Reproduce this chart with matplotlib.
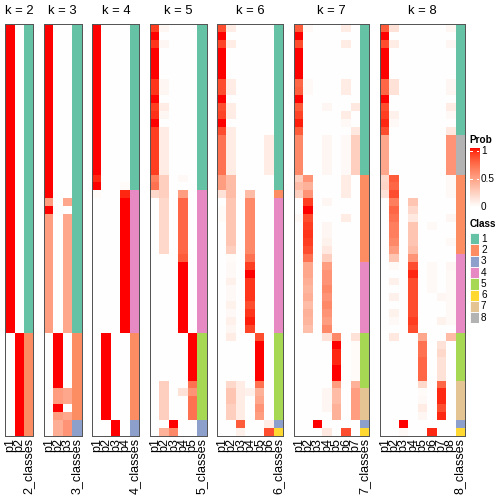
import numpy as np
import matplotlib
matplotlib.use("Agg")
import matplotlib.pyplot as plt
from matplotlib.colors import ListedColormap, to_rgb
from matplotlib.patches import Rectangle

plt.rcParams['font.family'] = ['Liberation Sans', 'DejaVu Sans']

# Every column is stored as (value, number of consecutive rows), top to bottom.
N_ROWS = 52

K2_CLASS = [(1, 39), (2, 13)]
K2_P1 = [(1, 39), (0, 13)]
K2_P2 = [(0, 39), (1, 13)]

K3_CLASS = [(1, 39), (2, 11), (3, 2)]
K3_P1 = [(1, 22), (0.5, 1), (1, 1), (0.5, 15), (0, 13)]
K3_P2 = [(0, 39), (1, 7), (0.5, 2), (1, 1), (0.5, 1), (0.42, 2)]
K3_P3 = [(0, 22), (0.45, 1), (0, 1), (0.45, 15), (0, 7), (0.45, 2), (0, 1), (0.45, 1), (0.55, 2)]

K4_CLASS = [(1, 21), (4, 18), (2, 11), (3, 2)]
K4_P1 = [(1, 19), (0.95, 1), (1, 1), (0.02, 1), (0, 30)]
K4_P2 = [(0, 39), (1, 11), (0, 2)]
K4_P3 = [(0, 50), (1, 2)]
K4_P4 = [(0, 20), (0.02, 1), (0.95, 1), (1, 17), (0, 13)]

K5_CLASS = [(1, 21), (4, 18), (5, 11), (3, 2)]
K5_P1 = [(0.9, 1), (1, 1), (0.92, 1), (1, 4), (0.92, 2), (1, 1), (0.9, 1), (0.93, 1), (1, 1),
         (0.9, 6), (0.65, 1), (0.7, 1), (0.2, 1), (0, 30)]
K5_P2 = [(0.05, 1), (0, 1), (0.05, 1), (0, 4), (0.05, 2), (0, 1), (0.1, 1), (0.05, 1), (0, 1),
         (0.1, 6), (0.25, 3), (0.2, 7), (0, 16), (0.25, 5), (0, 1), (0.4, 1)]
K5_P3 = [(0, 50), (1, 1), (0.6, 1)]
K5_P4 = [(0, 19), (0.03, 1), (0, 1), (0.5, 1), (0.75, 7), (0.8, 1), (1, 9), (0, 7), (0.15, 1), (0, 5)]
K5_P5 = [(0, 39), (1, 6), (0.7, 1), (0.55, 1), (0.7, 3), (0, 2)]

K6_CLASS = [(1, 21), (2, 1), (4, 17), (5, 11), (3, 1), (6, 1)]
K6_P1 = [(0.85, 1), (1, 1), (0.88, 1), (1, 4), (0.85, 2), (1, 1), (0.85, 1), (0.88, 1), (1, 1),
         (0.85, 1), (0.7, 5), (0.5, 2), (0.15, 1), (0, 1), (0.02, 2), (0, 27)]
K6_P2 = [(0.1, 1), (0, 1), (0.1, 1), (0, 4), (0.1, 2), (0, 1), (0.1, 2), (0, 1), (0.1, 6),
         (0.35, 3), (0.3, 6), (0.25, 1), (0.02, 1), (0.03, 2), (0.08, 1), (0.03, 2), (0.07, 1),
         (0.03, 1), (0.08, 1), (0.05, 1), (0.1, 1), (0, 5), (0.2, 1), (0.3, 2), (0.25, 2), (0, 2)]
K6_P3 = [(0, 45), (0.1, 5), (0.8, 1), (0.08, 1)]
K6_P4 = [(0, 21), (0.35, 1), (0.6, 7), (0.7, 1), (0.9, 1), (1, 1), (0.92, 3), (0.85, 1), (0.92, 1),
         (0.97, 1), (0.88, 1), (0, 7), (0.08, 1), (0, 5)]
K6_P5 = [(0, 39), (0.85, 1), (1, 5), (0.7, 1), (0.4, 1), (0.45, 1), (0.55, 1), (0.5, 1), (0, 2)]
K6_P6 = [(0, 14), (0.1, 5), (0, 31), (0.1, 1), (0.85, 1)]

K7_CLASS = [(1, 19), (2, 11), (4, 9), (5, 7), (7, 4), (3, 1), (6, 1)]
K7_P1 = [(0.8, 1), (1, 1), (0.85, 1), (1, 4), (0.75, 1), (0.78, 1), (1, 1), (0.8, 1), (0.88, 1),
         (0.97, 1), (0.8, 1), (0.6, 5), (0.25, 1), (0.35, 1), (0.25, 1), (0, 2), (0.03, 1), (0, 27)]
K7_P2 = [(0.03, 1), (0, 6), (0.03, 2), (0, 10), (0.55, 1), (0.4, 1), (0.55, 1), (0.9, 1), (1, 1),
         (0.85, 1), (0.9, 1), (0.92, 1), (0.9, 1), (0.85, 1), (0.7, 1), (0.45, 2), (0.42, 1),
         (0.38, 1), (0.42, 1), (0.35, 1), (0.4, 1), (0.38, 1), (0.33, 1), (0, 13)]
K7_P3 = [(0, 50), (1, 1), (0, 1)]
K7_P4 = [(0, 10), (0.05, 1), (0, 3), (0.05, 5), (0, 3), (0.05, 1), (0, 2), (0.05, 2), (0.07, 1),
         (0.12, 1), (0.25, 1), (0.5, 1), (0.55, 2), (0.6, 1), (0.55, 1), (0.6, 1), (0.55, 1),
         (0.5, 1), (0.6, 1), (0.15, 1), (0, 6), (0.05, 3), (0, 2), (0.12, 1)]
K7_P5 = [(0, 39), (0.6, 1), (1, 1), (0.95, 2), (1, 2), (0.5, 1), (0.35, 2), (0.4, 2), (0, 2)]
K7_P6 = [(0.1, 1), (0, 1), (0.1, 1), (0, 4), (0.1, 2), (0, 2), (0.1, 1), (0.03, 1), (0, 1),
         (0.03, 5), (0.1, 3), (0, 2), (0.1, 1), (0, 26), (0.85, 1)]
K7_P7 = [(0, 10), (0.12, 1), (0, 2), (0.12, 1), (0.25, 5), (0, 20), (0.15, 1), (0.02, 5),
         (0.4, 1), (0.5, 4), (0, 2)]

K8_CLASS = [(1, 14), (8, 5), (2, 10), (4, 10), (5, 6), (7, 5), (3, 1), (6, 1)]
K8_P1 = [(0.8, 1), (1, 1), (0.85, 1), (1, 4), (0.75, 2), (1, 1), (0.85, 1), (0.9, 1), (0.95, 1),
         (0.85, 1), (0.45, 5), (0.2, 1), (0.22, 1), (0.15, 1), (0, 30)]
K8_P2 = [(0.15, 1), (0, 1), (0.1, 1), (0, 4), (0.15, 2), (0, 2), (0.08, 1), (0.03, 1), (0, 6),
         (0.8, 1), (0.75, 1), (0.85, 1), (0.65, 1), (0.75, 1), (0.7, 1), (0.65, 2), (0.6, 1),
         (0.5, 1), (0.3, 1), (0.03, 1), (0, 1), (0.08, 1), (0, 1), (0.08, 1), (0, 1), (0.07, 1),
         (0.03, 1), (0, 1), (0.12, 1), (0, 12)]
K8_P3 = [(0, 50), (1, 1), (0.03, 1)]
K8_P4 = [(0, 22), (0.3, 1), (0.2, 1), (0.12, 1), (0.3, 3), (0.35, 1), (0.55, 1), (0.85, 1),
         (0.95, 1), (0.85, 5), (0.9, 1), (0.85, 1), (0, 13)]
K8_P5 = [(0, 39), (0.45, 1), (0.7, 2), (0.75, 3), (0.2, 1), (0.02, 1), (0.03, 1), (0.1, 1),
         (0.05, 1), (0, 2)]
K8_P6 = [(0, 25), (0.03, 1), (0, 4), (0.03, 4), (0, 17), (0.95, 1)]
K8_P7 = [(0, 34), (0.05, 1), (0, 2), (0.07, 1), (0, 2), (0.15, 1), (0.2, 1), (0.15, 3), (0.75, 1),
         (0.95, 2), (0.85, 1), (0.95, 1), (0, 2)]
K8_P8 = [(0.05, 1), (0, 1), (0.05, 1), (0, 4), (0.05, 2), (0, 1), (0.1, 1), (0.03, 1), (0, 1),
         (0.12, 1), (0.55, 5), (0.03, 3), (0, 2), (0.05, 1), (0, 2), (0.03, 1), (0, 2), (0.05, 1),
         (0.03, 7), (0, 1), (0.35, 1), (0, 12)]

PANELS = [
    (2, K2_CLASS, [K2_P1, K2_P2]),
    (3, K3_CLASS, [K3_P1, K3_P2, K3_P3]),
    (4, K4_CLASS, [K4_P1, K4_P2, K4_P3, K4_P4]),
    (5, K5_CLASS, [K5_P1, K5_P2, K5_P3, K5_P4, K5_P5]),
    (6, K6_CLASS, [K6_P1, K6_P2, K6_P3, K6_P4, K6_P5, K6_P6]),
    (7, K7_CLASS, [K7_P1, K7_P2, K7_P3, K7_P4, K7_P5, K7_P6, K7_P7]),
    (8, K8_CLASS, [K8_P1, K8_P2, K8_P3, K8_P4, K8_P5, K8_P6, K8_P7, K8_P8]),
]

CLASS_LABELS = ["1", "2", "3", "4", "5", "6", "7", "8"]
CLASS_COLORS = ["#66C2A5", "#FC8D62", "#8DA0CB", "#E78AC3",
                "#A6D854", "#FFD92F", "#E5C494", "#B3B3B3"]
PROB_TICKS = [1, 0.5, 0]
PROB_TICK_LABELS = ["1", "0.5", "0"]

FIG_PX = 504
COL_W = 9.4
GAP = 10.8
LEFT0 = 5
TOP = 24
BOTTOM = 436


def expand(runs):
    values = np.concatenate([np.full(count, value, dtype=float) for value, count in runs])
    assert len(values) == N_ROWS
    return values


# white -> red ramp interpolated in CIE LAB, like colorRamp2 does
def lab_ramp(n=256):
    t = np.linspace(0, 1, n)
    white = np.array([100.0, 0.0, 0.0])
    red = np.array([53.24, 80.09, 67.20])
    lab = white[None, :] * (1 - t[:, None]) + red[None, :] * t[:, None]
    fy = (lab[:, 0] + 16) / 116
    fx = fy + lab[:, 1] / 500
    fz = fy - lab[:, 2] / 200

    def finv(f):
        return np.where(f > 6 / 29, f ** 3, 3 * (6 / 29) ** 2 * (f - 4 / 29))

    xyz = np.stack([0.95047 * finv(fx), finv(fy), 1.08883 * finv(fz)], axis=1)
    m = np.array([[3.2406, -1.5372, -0.4986],
                  [-0.9689, 1.8758, 0.0415],
                  [0.0557, -0.2040, 1.0570]])
    rgb_lin = np.clip(xyz @ m.T, 0, 1)
    rgb = np.where(rgb_lin <= 0.0031308, 12.92 * rgb_lin,
                   1.055 * rgb_lin ** (1 / 2.4) - 0.055)
    return ListedColormap(np.clip(rgb, 0, 1))


prob_cmap = lab_ramp()

fig = plt.figure(figsize=(FIG_PX / 72, FIG_PX / 72), dpi=72)


def px_axes(x0, y0, w, h):
    return fig.add_axes([x0 / FIG_PX, 1 - (y0 + h) / FIG_PX, w / FIG_PX, h / FIG_PX])


x = LEFT0
for k, class_runs, prob_columns in PANELS:
    ncols = len(prob_columns) + 1
    width = ncols * COL_W
    ax = px_axes(x, TOP, width, BOTTOM - TOP)

    image = np.ones((N_ROWS, ncols, 3))
    for j, column in enumerate(prob_columns):
        image[:, j] = prob_cmap(expand(column))[:, :3]
    classes = expand(class_runs).astype(int)
    image[:, -1] = [to_rgb(CLASS_COLORS[c - 1]) for c in classes]

    ax.imshow(image, aspect="auto", interpolation="nearest")
    ax.set_xticks([])
    ax.set_yticks([])
    for spine in ax.spines.values():
        spine.set_color("#555555")
        spine.set_linewidth(1.0)

    fig.text((x + width / 2) / FIG_PX, 1 - 11 / FIG_PX, f"k = {k}",
             ha="center", va="center", fontsize=13)

    names = [f"p{i + 1}" for i in range(len(prob_columns))] + [f"{k}_classes"]
    for j, name in enumerate(names):
        fig.text((x + (j + 0.5) * COL_W) / FIG_PX, 1 - 438 / FIG_PX, name,
                 rotation=90, rotation_mode="anchor", ha="right", va="center",
                 fontsize=12.5)

    x += width + GAP

# legends on the right
LEG_X = 469.5
fig.text(LEG_X / FIG_PX, 1 - 140 / FIG_PX, "Prob", fontweight="bold",
         fontsize=10, ha="left", va="center")
bar_top, bar_bottom = 148, 207
cax = px_axes(LEG_X, bar_top, 9.5, bar_bottom - bar_top)
cax.imshow(np.linspace(1, 0, 200).reshape(-1, 1), cmap=prob_cmap, vmin=0, vmax=1,
           aspect="auto", extent=(0, 1, 0, 1))
cax.set_xlim(0, 1)
cax.set_ylim(0, 1)
cax.axis("off")
for value, label in zip(PROB_TICKS, PROB_TICK_LABELS):
    y_px = 207 - value * 56
    y_ax = (bar_bottom - y_px) / (bar_bottom - bar_top)
    if 0 < value:
        cax.plot([0, 0.25], [y_ax, y_ax], color="white", lw=1)
        cax.plot([0.75, 1], [y_ax, y_ax], color="white", lw=1)
    fig.text(481 / FIG_PX, 1 - y_px / FIG_PX, label, fontsize=10,
             ha="left", va="center")

fig.text(LEG_X / FIG_PX, 1 - 224 / FIG_PX, "Class", fontweight="bold",
         fontsize=10, ha="left", va="center")
box_h = 11.3
for i, (label, color) in enumerate(zip(CLASS_LABELS, CLASS_COLORS)):
    y0 = 233 + i * box_h
    bax = px_axes(LEG_X, y0, 9.5, box_h)
    bax.add_patch(Rectangle((0, 0), 1, 1, facecolor=color, edgecolor="white", lw=0.8))
    bax.set_xlim(0, 1)
    bax.set_ylim(0, 1)
    bax.axis("off")
    fig.text(481 / FIG_PX, 1 - (y0 + box_h / 2) / FIG_PX, label, fontsize=10,
             ha="left", va="center")

fig.savefig("out.png", dpi=72)
